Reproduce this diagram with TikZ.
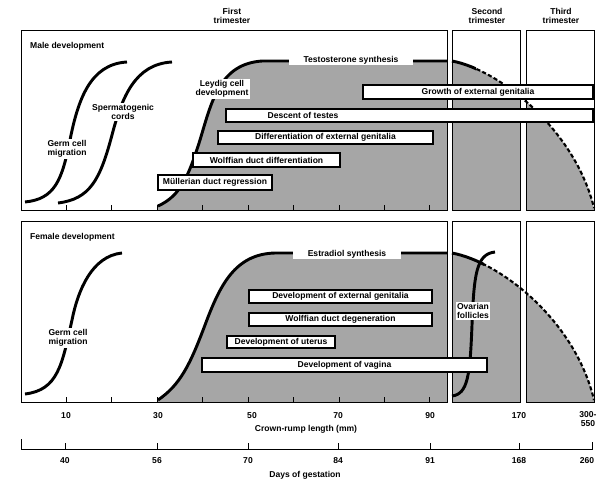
\documentclass[tikz,border=0pt]{standalone}
\usepackage{fontspec}
\setmainfont{Liberation Sans}
\usetikzlibrary{fit}

\begin{document}
\begin{tikzpicture}[x=0.3mm,y=-0.3mm,
    every node/.style={font=\fontsize{7.3}{8}\selectfont\bfseries,align=center},
    frame/.style={draw,line width=0.8pt},
    stipple/.style={fill=black!35},
    hormone/.style={line width=2.5pt},
    dashedhormone/.style={line width=1.8pt,dash pattern=on 3.5pt off 2pt},
    lbl/.style={fill=white,inner sep=1.2pt},
    gaplbl/.style={lbl,inner xsep=4.5mm},
    bar/.style={draw,fill=white,line width=1.1pt,inner sep=0pt},
    tick/.style={line width=0.8pt}]
  \useasboundingbox (0,0) rectangle (603,482);

  % male panel
  \begin{scope}
    \clip (21,30) rectangle (447,210) (452,30) rectangle (520,210) (526,30) rectangle (594,210);
    \fill[stipple] (158,210) -- (158,206) .. controls (180,196) and (188,178) .. (200,140)
      .. controls (212,100) and (220,64) .. (262,61) -- (452,61)
      .. controls (500,70) and (575,130) .. (594,208) -- (594,210) -- cycle;
  \end{scope}
  \draw[frame] (21,30) rectangle (447,210) (452,30) rectangle (520,210) (526,30) rectangle (594,210);
  \foreach \x in {66,111,157,202,248,293,339,384,429}
    \draw[tick] (\x,210) -- (\x,205);
  \draw[hormone] (25,202) .. controls (55,199) and (62,180) .. (70,140) .. controls (78,100) and (90,64) .. (127,62);
  \draw[hormone] (58,203) .. controls (90,199) and (100,180) .. (112,135) .. controls (122,97) and (135,64) .. (172,62);
  \draw[hormone] (158,206) .. controls (180,196) and (188,178) .. (200,140)
    .. controls (212,100) and (220,64) .. (262,61) -- (447,61);
  \begin{scope}
    \clip (450,30) rectangle (476,210);
    \draw[hormone] (452,61) .. controls (500,70) and (575,130) .. (594,208);
  \end{scope}
  \begin{scope}
    \clip (476,30) rectangle (600,210);
    \draw[dashedhormone] (452,61) .. controls (500,70) and (575,130) .. (594,208);
  \end{scope}

  \node[bar,fit={(363,85) (593,99)},label=center:{Growth of external genitalia}] (growth) {};
  \node[bar,fit={(226,109) (593,122)}] (descent) {};
  \node (descent_t) at (303,115.5) {Descent of testes};
  \node[bar,fit={(218,131) (433,144)},label=center:{Differentiation of external genitalia}] (diffgen) {};
  \node[bar,fit={(193,153) (340,167)},label=center:{Wolffian duct differentiation}] (wolffdiff) {};
  \node[bar,fit={(158,175) (272,190)},label=center:{Müllerian duct regression}] (muller) {};

  \node[anchor=west] (male) at (26,46) {Male development};
  \node[lbl] (germ_m) at (67,149) {Germ cell\\migration};
  \node[lbl] (sperm) at (123,112) {Spermatogenic\\cords};
  \node[lbl] (leydig) at (222,89) {Leydig cell\\development};
  \node[gaplbl] (testo) at (351,60) {Testosterone synthesis};

  % female panel
  \begin{scope}
    \clip (21,221) rectangle (447,402) (452,221) rectangle (520,402) (526,221) rectangle (594,402);
    \fill[stipple] (158,402) -- (158,400) .. controls (180,385) and (190,365) .. (205,325)
      .. controls (220,285) and (235,254) .. (275,253) -- (452,253)
      .. controls (500,262) and (575,320) .. (594,400) -- (594,402) -- cycle;
  \end{scope}
  \draw[frame] (21,221) rectangle (447,402) (452,221) rectangle (520,402) (526,221) rectangle (594,402);
  \foreach \x in {66,111,157,202,248,293,339,384,429}
    \draw[tick] (\x,402) -- (\x,397);
  \draw[hormone] (25,394) .. controls (58,390) and (62,365) .. (72,320) .. controls (78,290) and (92,256) .. (122,253);
  \draw[hormone] (158,400) .. controls (180,385) and (190,365) .. (205,325)
    .. controls (220,285) and (235,254) .. (275,253) -- (447,253);
  \begin{scope}
    \clip (450,221) rectangle (484,402);
    \draw[hormone] (452,253) .. controls (500,262) and (575,320) .. (594,400);
  \end{scope}
  \begin{scope}
    \clip (484,221) rectangle (600,402);
    \draw[dashedhormone] (452,253) .. controls (500,262) and (575,320) .. (594,400);
  \end{scope}
  \draw[hormone] (452,396) .. controls (468,394) and (470,375) .. (472,325) .. controls (474,275) and (476,254) .. (495,252);

  \node[bar,fit={(249,290) (432,303)},label=center:{Development of external genitalia}] (extgen) {};
  \node[bar,fit={(249,313) (432,326)},label=center:{Wolffian duct degeneration}] (wolffdeg) {};
  \node[bar,fit={(227,336) (335,348)},label=center:{Development of uterus}] (uterus) {};
  \node[bar,fit={(202,358) (487,372)},label=center:{Development of vagina}] (vagina) {};

  \node[anchor=west] (female) at (26,237) {Female development};
  \node[lbl] (germ_f) at (68,338) {Germ cell\\migration};
  \node[gaplbl] (estra) at (347,254) {Estradiol synthesis};
  \node[lbl] (ovar) at (473,311) {Ovarian\\follicles};

  % trimesters
  \node (first) at (232,16) {First\\trimester};
  \node (second) at (487,16) {Second\\trimester};
  \node (third) at (561,16) {Third\\trimester};

  % axes
  \foreach \x/\t in {66/10,158/30,252/50,338/70,430/90,519/170}
    \node (crl\t) at (\x,416) {\t};
  \node (crl300) at (588,419) {300-\\550};
  \node (crl) at (306,429) {Crown-rump length (mm)};
  \draw[tick] (21,439) -- (21,449) -- (592,449) -- (592,442);
  \foreach \x/\t in {65/40,157/56,248/70,338/84,430/91,519/168} {
    \draw[tick] (\x,449) -- (\x,443);
    \node (day\t) at (\x,461) {\t};
  }
  \node (day260) at (587,461) {260};
  \node (days) at (305,475) {Days of gestation};
\end{tikzpicture}
\end{document}
